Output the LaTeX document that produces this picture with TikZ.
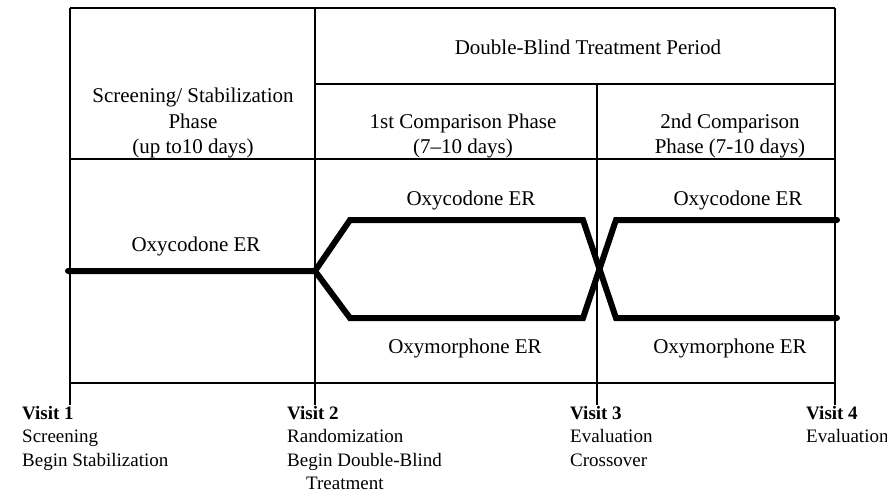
\documentclass[tikz,border=0pt]{standalone}
\usepackage{fontspec}
\setmainfont{Liberation Serif}
\usetikzlibrary{positioning}

\begin{document}
\begin{tikzpicture}[x=1pt, y=-1pt,
      frame/.style={line width=2.2pt},
      arm/.style={line width=6pt, line cap=round, line join=miter},
      cell/.style={font=\fontsize{21}{25.5}\selectfont, align=center, inner sep=0pt},
      visit/.style={font=\fontsize{19}{23.5}\selectfont, align=left, anchor=north west, inner sep=0pt},
    ]
    \useasboundingbox (0,0) rectangle (887,499);

    % grid of the schedule
    \coordinate (t1) at (70,8);
    \coordinate (t2) at (315,8);
    \coordinate (t4) at (835,8);
    \coordinate (m2) at (315,84);
    \coordinate (m3) at (597,84);
    \coordinate (m4) at (835,84);
    \coordinate (h1) at (70,159);
    \coordinate (h4) at (835,159);
    \coordinate (b1) at (70,383);
    \coordinate (b4) at (835,383);
    \coordinate (e1) at (70,405);
    \coordinate (e2) at (315,405);
    \coordinate (e3) at (597,405);
    \coordinate (e4) at (835,405);
    \draw[frame] (t1) -- (t4);
    \draw[frame] (m2) -- (m4);
    \draw[frame] (h1) -- (h4);
    \draw[frame] (b1) -- (b4);
    \draw[frame] (t1) -- (e1);
    \draw[frame] (t2) -- (e2);
    \draw[frame] (m3) -- (e3);
    \draw[frame] (t4) -- (e4);

    % treatment arms
    \coordinate (s0) at (68,271);
    \coordinate (rnd) at (315,271);
    \coordinate (up1) at (350,220);
    \coordinate (up2) at (583,220);
    \coordinate (up3) at (616,220);
    \coordinate (up4) at (837,220);
    \coordinate (lo1) at (350,318);
    \coordinate (lo2) at (583,318);
    \coordinate (lo3) at (616,318);
    \coordinate (lo4) at (837,318);
    \draw[arm] (s0) -- (rnd) -- (up1) -- (up2) -- (lo3) -- (lo4);
    \draw[arm] (rnd) -- (lo1) -- (lo2) -- (up3) -- (up4);

    % phases
    \node[cell] (dbt) at (588,47) {Double-Blind Treatment Period};
    \node[cell] (scr) at (193,123) {Screening/ Stabilization\\Phase\\(up to10 days)};
    \node[cell] (cmp1) at (463,136) {1st Comparison Phase\\(7--10 days)};
    \node[cell] (cmp2) at (730,136) {2nd Comparison\\Phase (7-10 days)};

    % drugs
    \node[cell] (oxc0) at (196,246) {Oxycodone ER};
    \node[cell] (oxc1) at (471,200) {Oxycodone ER};
    \node[cell] (oxc2) at (738,200) {Oxycodone ER};
    \node[cell] (oxm1) at (465,348) {Oxymorphone ER};
    \node[cell] (oxm2) at (730,348) {Oxymorphone ER};

    % visits
    \node[visit] (v1) at (22,406) {\textbf{Visit 1}\\Screening\\Begin Stabilization};
    \node[visit] (v2) at (287,406) {\textbf{Visit 2}\\Randomization\\Begin Double-Blind\\\hspace*{1em}Treatment};
    \node[visit] (v3) at (570,406) {\textbf{Visit 3}\\Evaluation\\Crossover};
    \node[visit] (v4) at (806,406) {\textbf{Visit 4}\\Evaluation};
  \end{tikzpicture}
\end{document}
